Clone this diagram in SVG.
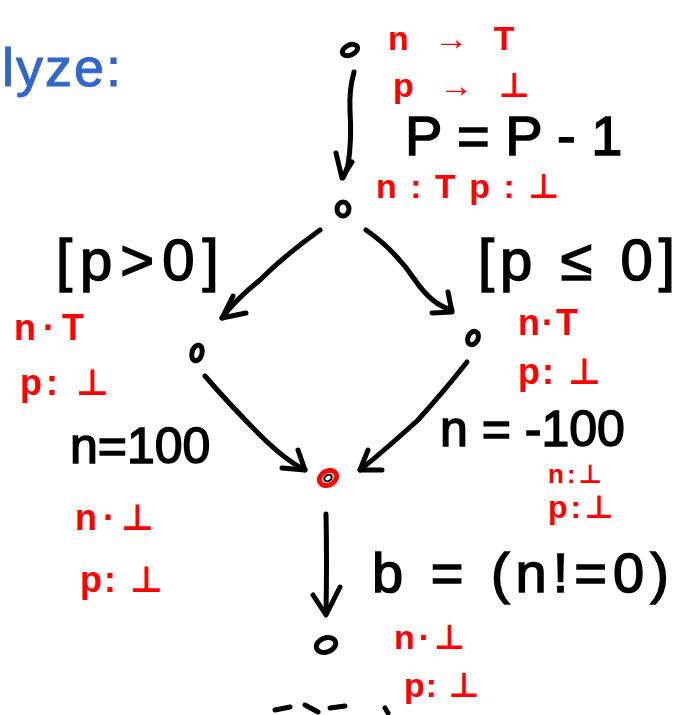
<svg xmlns="http://www.w3.org/2000/svg" width="689" height="715" viewBox="0 0 689 715">
<style>
.blk{font-family:"Liberation Sans","DejaVu Sans",sans-serif;fill:#000;stroke:#000;stroke-width:1.5}
.red{font-family:"Liberation Sans","DejaVu Sans",sans-serif;fill:#ff0000;font-weight:bold}
.blu{font-family:"Liberation Sans","DejaVu Sans",sans-serif;fill:#3366cc;stroke:#3366cc;stroke-width:1}
.edge{fill:none;stroke:#000;stroke-width:5;stroke-linecap:round;stroke-linejoin:round}
.node{fill:none;stroke:#000;stroke-width:5}
</style>
<rect width="689" height="715" fill="#fff"/>
<text class="blu" x="2" y="86" font-size="54" letter-spacing="2">lyze:</text>

<g id="n1">
<ellipse class="node" cx="350" cy="50" rx="8" ry="5" transform="rotate(-25 350 50)"/>
<text class="red" x="388" y="50" font-size="34" letter-spacing="8">n → T</text>
<text class="red" x="393" y="97" font-size="34" letter-spacing="8">p → ⊥</text>
</g>
<g id="n2">
<ellipse class="node" cx="343" cy="209" rx="6" ry="7"/>
<text class="red" x="376" y="198" font-size="34" letter-spacing="2">n : T  p : ⊥</text>
</g>
<g id="n3">
<ellipse class="node" cx="197" cy="353" rx="5" ry="8" transform="rotate(15 197 353)"/>
<text class="red" x="14" y="340" font-size="36" letter-spacing="7">n·T</text>
<text class="red" x="20" y="395" font-size="36" letter-spacing="4">p: ⊥</text>
</g>
<g id="n4">
<ellipse class="node" cx="473" cy="338" rx="5" ry="7" transform="rotate(25 473 338)"/>
<text class="red" x="518" y="335" font-size="36" letter-spacing="2">n·T</text>
<text class="red" x="518" y="384" font-size="36" letter-spacing="2">p: ⊥</text>
</g>
<g id="n5">
<ellipse cx="328" cy="478" rx="9" ry="7" transform="rotate(-30 328 478)" fill="none" stroke="#ff0000" stroke-width="5"/>
<ellipse cx="328" cy="478" rx="4" ry="3" transform="rotate(-30 328 478)" fill="none" stroke="#000" stroke-width="2"/>
</g>
<g id="n6">
<ellipse class="node" cx="326" cy="645" rx="10" ry="7" transform="rotate(-20 326 645)"/>
<text class="red" x="394" y="649" font-size="34" letter-spacing="4">n·⊥</text>
<text class="red" x="404" y="697" font-size="34" letter-spacing="1">p: ⊥</text>
</g>

<g id="labels">
<text class="blk" x="405" y="155" font-size="56">P = P - 1</text>
<text class="blk" x="56" y="280" font-size="58" letter-spacing="8">[p&gt;0]</text>
<text class="blk" x="478" y="280" font-size="58" letter-spacing="6">[p ≤ 0]</text>
<text class="blk" x="70" y="463" font-size="50">n=100</text>
<text class="blk" x="440" y="446" font-size="50">n = -100</text>
<text class="red" x="548" y="483" font-size="26" letter-spacing="3">n:⊥</text>
<text class="red" x="548" y="518" font-size="32" letter-spacing="3">p:⊥</text>
<text class="red" x="75" y="530" font-size="36" letter-spacing="6">n·⊥</text>
<text class="red" x="80" y="592" font-size="36" letter-spacing="2">p: ⊥</text>
<text class="blk" x="372" y="592" font-size="56" letter-spacing="6">b = (n!=0)</text>
</g>

<g id="connectors">
<path class="edge" d="M354 72 Q349 90 350 110 Q352 140 348 165 Q346 172 343 178"/>
<path class="edge" d="M336 153 L342 178 L352 162"/>
<path class="edge" d="M320 230 Q285 255 260 280 Q235 300 222 318"/>
<path class="edge" d="M233 296 L222 318 L246 313"/>
<path class="edge" d="M366 230 Q395 250 415 280 Q432 305 452 310"/>
<path class="edge" d="M448 292 L452 312 L432 313"/>
<path class="edge" d="M205 376 Q230 405 260 435 Q285 460 305 470"/>
<path class="edge" d="M298 450 L305 470 L282 468"/>
<path class="edge" d="M467 362 Q445 390 418 420 Q385 450 360 470"/>
<path class="edge" d="M368 450 L360 470 L382 470"/>
<path class="edge" d="M326 514 Q327 560 326 614"/>
<path class="edge" d="M313 595 L326 615 L340 587"/>
<path class="edge" d="M275 710 L290 707 M305 705 L318 712 M330 708 L345 706 M385 708 L388 713"/>
</g>
</svg>
